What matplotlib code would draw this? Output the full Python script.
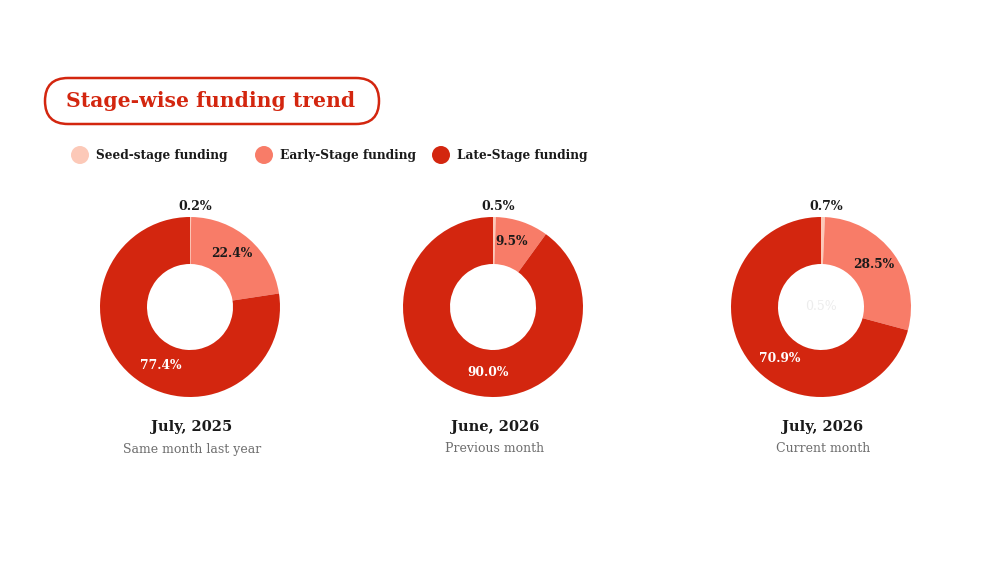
import numpy as np
import matplotlib
matplotlib.use('Agg')
import matplotlib.pyplot as plt
from matplotlib.patches import FancyBboxPatch, Circle

# data
stages = ['Seed-stage funding', 'Early-Stage funding', 'Late-Stage funding']
colors = ['#fcc9b8', '#f87c68', '#d3260f']
months = ['July, 2025', 'June, 2026', 'July, 2026']
notes = ['Same month last year', 'Previous month', 'Current month']
seed = [0.2, 0.5, 0.7]
early = [22.4, 9.5, 28.5]
late = [77.4, 90.0, 70.9]

plt.rcParams['font.family'] = ['DejaVu Serif']

W, H = 1000, 563
fig = plt.figure(figsize=(10, 5.63), dpi=100)
ax = fig.add_axes([0, 0, 1, 1])

def py(y):
    return H - y

red = '#d3260f'
dark = '#1a1a1a'

# title box
box = FancyBboxPatch((45, py(124)), 334, 46, boxstyle='round,pad=0,rounding_size=23',
                     fc='white', ec=red, lw=1.8)
ax.add_patch(box)
ax.text(211, py(101), 'Stage-wise funding trend', color=red, fontsize=14.7,
        fontweight='bold', ha='center', va='center')

# legend
lx = [80, 264, 441]
for x, lab, c in zip(lx, stages, colors):
    ax.add_patch(Circle((x, py(155)), 9, fc=c, ec='none'))
    ax.text(x + 16, py(155), lab, fontsize=8.7, fontweight='bold', va='center', color=dark)

centers = [190, 493, 821]
cy = 307
R = 90
ring = 47

for i, cx in enumerate(centers):
    vals = [seed[i], early[i], late[i]]
    ax.pie(vals, colors=colors, startangle=90, counterclock=False, center=(cx, py(cy)),
           radius=R, wedgeprops=dict(width=ring, linewidth=0), frame=True)
    # seed label above
    ax.text(cx + 5, py(207), f'{seed[i]:.1f}%', fontsize=9, fontweight='bold',
            ha='center', va='center', color=dark)
    # early label
    a = np.deg2rad(90 - seed[i] * 3.6 - early[i] * 1.8 + 3)
    r = 68
    ax.text(cx + r * np.cos(a), py(cy) + r * np.sin(a), f'{early[i]:.1f}%', fontsize=8.8,
            fontweight='bold', ha='center', va='center', color=dark)
    # late label
    a = np.deg2rad(90 - (seed[i] + early[i]) * 3.6 - late[i] * 1.8 + 14)
    r = 66
    ax.text(cx + r * np.cos(a), py(cy) + r * np.sin(a), f'{late[i]:.1f}%', fontsize=8.8,
            fontweight='bold', ha='center', va='center', color='white')
    ax.text(cx + 2, py(427), months[i], fontsize=10.5, fontweight='bold', ha='center',
            va='center', color=dark)
    ax.text(cx + 2, py(449), notes[i], fontsize=9, ha='center', va='center', color='#6e6e6e')

# faint ghost label in the last donut
ax.text(centers[2], py(cy), '0.5%', fontsize=9, ha='center', va='center', color='#ececec')

ax.set_xlim(0, W)
ax.set_ylim(0, H)
ax.set_aspect('equal')
ax.axis('off')
fig.savefig('out.png', dpi=100, facecolor='white')
